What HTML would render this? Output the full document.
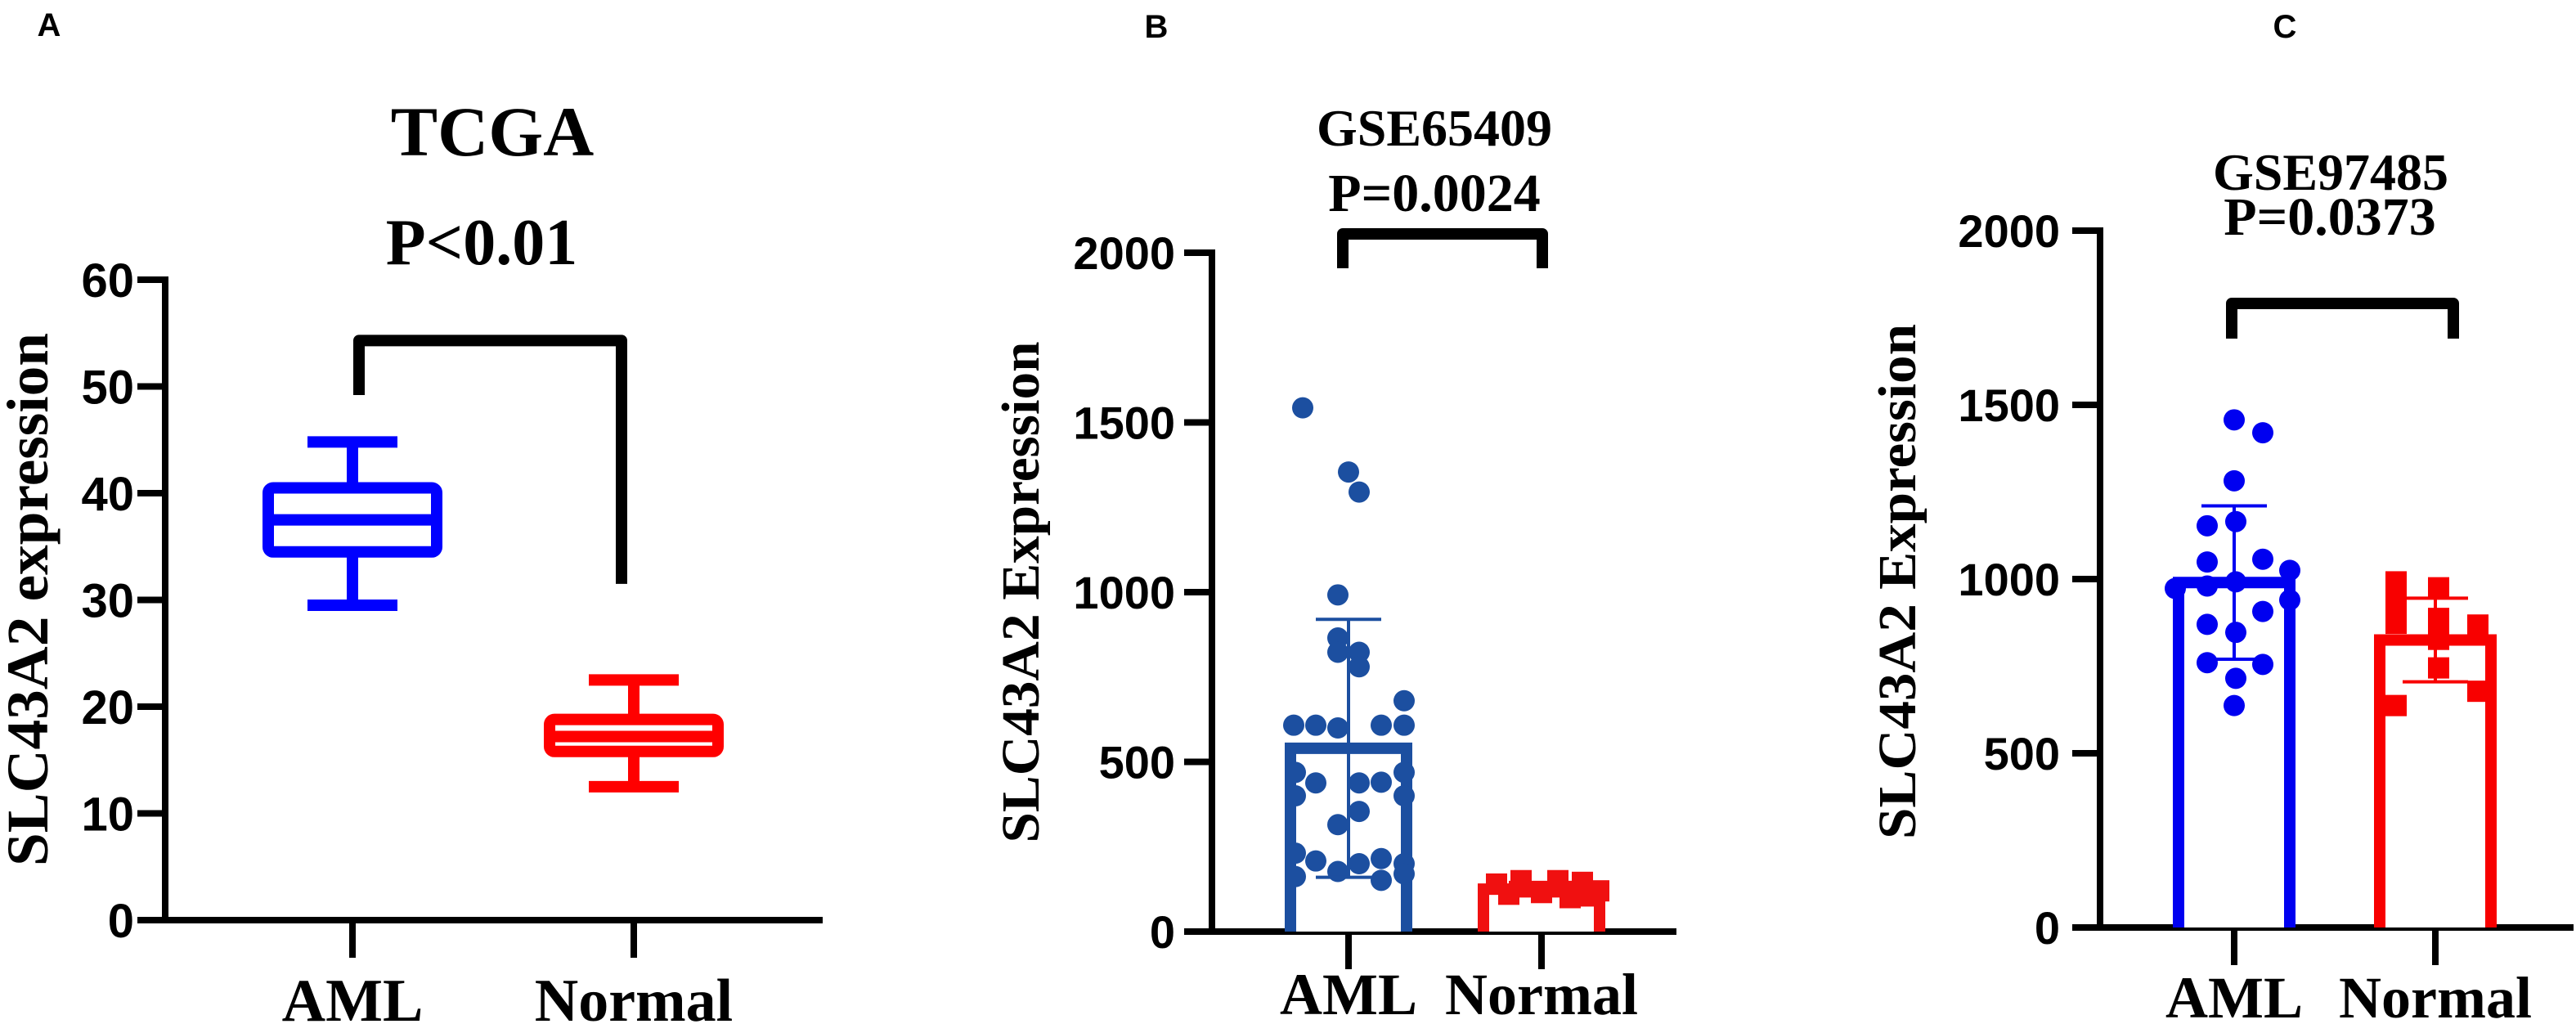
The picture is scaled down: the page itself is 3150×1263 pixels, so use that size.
<!DOCTYPE html>
<html><head><meta charset="utf-8"><style>
html,body{margin:0;padding:0;background:#fff}
svg{display:block}
.tk{font-family:"Liberation Sans",sans-serif;font-weight:bold}
.tm{font-family:"Liberation Serif",serif;font-weight:bold}
</style></head><body>
<svg id="fig" width="3150" height="1263" viewBox="0 0 3150 1263" xmlns="http://www.w3.org/2000/svg">
<text x="60" y="44" class="tk" font-size="40" text-anchor="middle">A</text>
<text x="1414" y="46" class="tk" font-size="40" text-anchor="middle">B</text>
<text x="2794" y="46" class="tk" font-size="40" text-anchor="middle">C</text>
<g id="pa"></g>
<g id="pb"></g>
<g id="pc"></g>
</svg>
<script>
// Panel A data (box plot)
const aCategories = ["AML", "Normal"];
const aMin = [29.5, 12.5];
const aQ1 = [34.5, 15.8];
const aMedian = [37.5, 17.2];
const aQ3 = [40.5, 18.8];
const aMax = [44.8, 22.5];
const aTicks = [0, 10, 20, 30, 40, 50, 60];
const aBracket = [54.3, 49.2, 31.5];

// Panel B data
const bCategories = ["AML", "Normal"];
const bMeans = [540, 125];
const bSD = [380, 20];
const bAml = [1543, 1354, 1295, 992, 865, 823, 823, 780, 680, 608, 608, 600, 608, 608, 469, 438, 438, 440, 469, 400, 400, 354, 315, 231, 208, 200, 215, 200, 162, 177, 151, 170];
const bNormal = [140, 150, 150, 145, 120, 110, 115, 100, 105];
const bTicks = [0, 500, 1000, 1500, 2000];

// Panel C data
const cCategories = ["AML", "Normal"];
const cMeans = [990, 825];
const cSD = [220, 120];
const cAml = [1457, 1420, 1282, 1153, 1165, 1049, 1057, 1025, 973, 980, 992, 940, 907, 870, 847, 760, 755, 715, 637];
const cNormal = [992, 975, 933, 887, 868, 873, 827, 745, 678, 637];
const cTicks = [0, 500, 1000, 1500, 2000];

const NS = "http://www.w3.org/2000/svg";
function mk(parent, tag, attrs, text) {
  const e = document.createElementNS(NS, tag);
  for (const k in attrs) e.setAttribute(k, attrs[k]);
  if (text !== undefined) e.textContent = text;
  parent.appendChild(e);
  return e;
}
function seeded(i){ return ((i*37)%11)/10 - 0.5; }

function axes(g, cfg) {
  const y = cfg.y;
  let e = mk(g, "line", {x1: cfg.axX, y1: y(cfg.ticks[cfg.ticks.length-1]) - 4, x2: cfg.axX, y2: y(0) + 4, stroke: "#000", "stroke-width": 8});
  
  
  e = mk(g, "line", {x1: cfg.axStart, y1: y(0), x2: cfg.axEnd, y2: y(0), stroke: "#000", "stroke-width": 8});
  
  
  cfg.ticks.forEach(t => {
    e = mk(g, "line", {x1: cfg.axX - 34, y1: y(t), x2: cfg.axX, y2: y(t), stroke: "#000", "stroke-width": 8});
    
    
    e = mk(g, "text", {x: cfg.lblRight, y: y(t) + cfg.fs*0.36, class: "tk", "font-size": cfg.fs, "text-anchor": "end"}, String(t));
    
    
  });
  cfg.cats.forEach((c, i) => {
    const x = cfg.catX[i];
    e = mk(g, "line", {x1: x, y1: y(0), x2: x, y2: y(0) + 46, stroke: "#000", "stroke-width": 8});
    
    
    e = mk(g, "text", {x: x, y: cfg.xlY, class: "tm", "font-size": cfg.xfs, "text-anchor": "middle"}, c);
    
    
  });
  e = mk(g, "text", {transform: `translate(${cfg.ytX},${cfg.ytY}) rotate(-90)`, class: "tm", "font-size": cfg.ytFs, "text-anchor": "middle", textLength: cfg.ytLen, lengthAdjust: "spacingAndGlyphs"}, cfg.ytText);
  
  
  cfg.titles.forEach(tt => {
    e = mk(g, "text", {x: tt.x, y: tt.y, class: "tm", "font-size": tt.fs, "text-anchor": "middle"}, tt.t);
    
    
  });
}
function bracket(g, x1, x2, yTop, yL, yR) {
  const e = mk(g, "path", {d: `M${x1},${yL} V${yTop} H${x2} V${yR}`, fill: "none", stroke: "#000", "stroke-width": 14, "stroke-linejoin": "round"});
  
  
}

// ---------- Panel A ----------
(function(){
  const g = document.getElementById("pa");
  const y = v => 1125 - v * (1125 - 342) / 60;
  const catX = [431, 775];
  axes(g, {y, ticks: aTicks, axX: 202, axStart: 168, axEnd: 1006, lblRight: 164, fs: 58, cats: aCategories, catX, xlY: 1248, xfs: 74,
    ytX: 58, ytY: 733, ytFs: 72, ytLen: 652, ytText: "SLC43A2 expression",
    titles: [{x: 602, y: 190, fs: 86, t: "TCGA", name: "chart-title"}, {x: 589, y: 323, fs: 80, t: "P<0.01", name: "p-value-label"}]});
  const colors = ["#0000ff", "#ff0000"];
  aCategories.forEach((c, i) => {
    const x = catX[i], col = colors[i], hw = 110, cw = 55;
    let e = mk(g, "line", {x1: x, y1: y(aMax[i]), x2: x, y2: y(aMin[i]), stroke: col, "stroke-width": 14});
    
    
    e = mk(g, "line", {x1: x - cw, y1: y(aMax[i]), x2: x + cw, y2: y(aMax[i]), stroke: col, "stroke-width": 14});
    
    
    e = mk(g, "line", {x1: x - cw, y1: y(aMin[i]), x2: x + cw, y2: y(aMin[i]), stroke: col, "stroke-width": 14});
    
    
    e = mk(g, "rect", {x: x - hw + 7, y: y(aQ3[i]), width: 2*hw - 14, height: y(aQ1[i]) - y(aQ3[i]), fill: "#fff", stroke: col, "stroke-width": 14, rx: 6});
    
    
    e = mk(g, "line", {x1: x - hw + 7, y1: y(aMedian[i]), x2: x + hw - 7, y2: y(aMedian[i]), stroke: col, "stroke-width": 14});
    
    
  });
  bracket(g, 439, 760, y(aBracket[0]), y(aBracket[1]), y(aBracket[2]));
})();

// ---------- Bar + scatter panels ----------
function barPanel(g, cfg) {
  const y = cfg.y;
  axes(g, cfg.axes);
  cfg.cats.forEach((c, i) => {
    const x = cfg.catX[i], col = cfg.colors[i], hw = cfg.barHW, sw = cfg.sw;
    let e = mk(g, "path", {d: `M${x-hw+sw/2},${y(0)} V${y(cfg.means[i])} H${x+hw-sw/2} V${y(0)}`, fill: "#fff", stroke: col, "stroke-width": sw});
    
    
  });
  cfg.cats.forEach((c, i) => {
    const x = cfg.catX[i], col = cfg.colors[i];
    const pts = cfg.points[i];
    pts.forEach((v, j) => {
      const off = cfg.offsets[i][j % cfg.offsets[i].length];
      let e;
      if (cfg.shapes[i] === "circle") {
        e = mk(g, "circle", {cx: x + off, cy: y(v), r: cfg.r, fill: col});
      } else {
        e = mk(g, "rect", {x: x + off - cfg.r, y: y(v) - cfg.r, width: 2*cfg.r, height: 2*cfg.r, fill: col});
      }
      
      
    });
  });
  cfg.cats.forEach((c, i) => {
    const x = cfg.catX[i], col = cfg.ebColors[i];
    const hi = cfg.means[i] + cfg.sd[i], lo = Math.max(cfg.means[i] - cfg.sd[i], 0);
    let e = mk(g, "path", {d: `M${x},${y(lo)} V${y(hi)} M${x-cfg.capW},${y(hi)} H${x+cfg.capW} M${x-cfg.capW},${y(lo)} H${x+cfg.capW}`, stroke: col, "stroke-width": 4, fill: "none"});
    
    
  });
  bracket(g, cfg.br[0], cfg.br[1], cfg.br[2], cfg.br[3], cfg.br[3]);
}

(function(){
  const g = document.getElementById("pb");
  const y = v => 1139 - v * (1139 - 309) / 2000;
  const catX = [1649, 1885];
  barPanel(g, {y, cats: bCategories, catX, colors: ["#1c4fa0", "#f01010"], ebColors: ["#1c4fa0", "#f01010"],
    means: bMeans, sd: bSD, points: [bAml, bNormal], shapes: ["circle", "square"], r: 13, barHW: 78, sw: 14, capW: 40,
    offsets: [[-56, 0, 13, -13, -13, 13, -13, 13, 68, -67, -40, -13, 40, 68, -65, -40, 13, 40, 68, -65, 68, 13, -13, -65, -40, 13, 40, 68, -65, -13, 40, 68],
              [-55, -25, 20, 50, 70, -40, 0, 35, 60]],
    br: [1642, 1886, 286, 328],
    axes: {y, ticks: bTicks, axX: 1482, axStart: 1455, axEnd: 2050, lblRight: 1437, fs: 56, cats: bCategories, catX, xlY: 1240, xfs: 72,
      ytX: 1270, ytY: 724, ytFs: 66, ytLen: 613, ytText: "SLC43A2 Expression",
      titles: [{x: 1754, y: 178, fs: 64, t: "GSE65409", name: "chart-title"}, {x: 1754, y: 258, fs: 66, t: "P=0.0024", name: "p-value-label"}]}});
})();

(function(){
  const g = document.getElementById("pc");
  const y = v => 1134 - v * (1134 - 282) / 2000;
  const catX = [2732, 2978];
  barPanel(g, {y, cats: cCategories, catX, colors: ["#0000f0", "#f80000"], ebColors: ["#0000f0", "#f80000"],
    means: cMeans, sd: cSD, points: [cAml, cNormal], shapes: ["circle", "square"], r: 13, barHW: 75, sw: 14, capW: 40,
    offsets: [[0, 35, 0, -33, 2, -33, 35, 68, -72, -33, 2, 68, 35, -33, 2, -33, 35, 2, 0],
              [-48, 4, -48, 4, 52, -48, 4, 4, 52, -48]],
    br: [2729, 3000, 371, 414],
    axes: {y, ticks: cTicks, axX: 2568, axStart: 2535, axEnd: 3147, lblRight: 2519, fs: 56, cats: cCategories, catX, xlY: 1244, xfs: 72,
      ytX: 2342, ytY: 711, ytFs: 66, ytLen: 630, ytText: "SLC43A2 Expression",
      titles: [{x: 2850, y: 232, fs: 64, t: "GSE97485", name: "chart-title"}, {x: 2849, y: 287, fs: 66, t: "P=0.0373", name: "p-value-label"}]}});
})();
</script>
</body></html>
